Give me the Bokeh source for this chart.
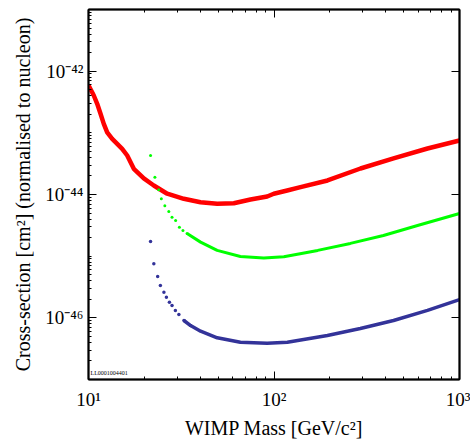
from bokeh.plotting import figure
from bokeh.models import FixedTicker, CustomJSTickFormatter, LogAxis, Label
from bokeh.embed import file_html
from bokeh.resources import INLINE

# ---- data ----
red_mass = [10.0, 10.68, 11.14, 11.61, 12.09, 12.61, 13.42, 14.28, 15.19, 16.17, 17.55,
            19.87, 22.49, 26.57, 32.65, 40.17, 49.41, 60.72, 74.68, 91.90, 99.75, 117.8,
            139.0, 194.3, 292.6, 440.9, 672.2, 1000]
red_xsec = [5.9e-43, 4.03e-43, 2.96e-43, 2.04e-43, 1.40e-43, 1.02e-43, 8.00e-44, 6.64e-44,
            5.51e-44, 4.29e-44, 2.61e-44, 1.82e-44, 1.40e-44, 1.03e-44, 8.51e-45, 7.50e-45,
            7.06e-45, 7.23e-45, 8.30e-45, 9.29e-45, 1.03e-44, 1.16e-44, 1.32e-44, 1.69e-44,
            2.64e-44, 3.84e-44, 5.57e-44, 7.52e-44]

green_dot_mass = [21.6, 22.8, 23.9, 24.7, 25.8, 27.1, 28.2, 29.5, 30.9, 32.3, 34.0]
green_dot_xsec = [4.30e-44, 1.91e-44, 1.19e-44, 8.5e-45, 6.6e-45, 5.3e-45, 4.29e-45,
                  3.79e-45, 2.95e-45, 2.6e-45, 2.33e-45]
green_line_mass = [34.0, 40.2, 49.4, 65.9, 88.1, 113, 172, 258, 389, 594, 1000]
green_line_xsec = [2.33e-45, 1.69e-45, 1.24e-45, 9.9e-46, 9.3e-46, 9.8e-46, 1.24e-45,
                   1.61e-45, 2.16e-45, 3.14e-45, 4.92e-45]

blue_dot_mass = [21.6, 22.5, 23.6, 24.4, 25.5, 26.3, 27.3, 28.2, 29.4, 30.7, 32.7, 35.5]
blue_dot_xsec = [1.73e-45, 7.52e-46, 4.68e-46, 3.35e-46, 2.61e-46, 2.16e-46, 1.79e-46,
                 1.59e-46, 1.32e-46, 1.13e-46, 9.05e-47, 7.5e-47]
blue_line_mass = [32.7, 35.5, 40.2, 49.4, 65.9, 91.8, 118, 194, 292, 441, 672, 1000]
blue_line_xsec = [9.05e-47, 7.5e-47, 6.07e-47, 4.75e-47, 4.03e-47, 3.88e-47, 4.03e-47,
                  5.18e-47, 6.72e-47, 9.05e-47, 1.32e-46, 1.98e-46]

x_major = [10, 100, 1000]
y_major = [1e-46, 1e-44, 1e-42]
x_minor = [k * 10.0 ** e for e in range(1, 3) for k in range(1, 10)] + [1000]
y_minor = [k * 10.0 ** e for e in range(-47, -41) for k in range(1, 10)]

FONT = "Liberation Serif, Times New Roman, serif"

p = figure(width=470, height=446, x_axis_type="log", y_axis_type="log",
           x_range=(10, 1000), y_range=(1e-47, 1e-41),
           output_backend="svg", toolbar_location=None,
           min_border_left=88, min_border_right=11, min_border_top=9, min_border_bottom=67)
p.background_fill_color = "white"
p.border_fill_color = "white"
p.outline_line_color = "black"
p.outline_line_width = 1.5
p.xgrid.visible = False
p.ygrid.visible = False

fmt_code = """
const e = Math.round(Math.log10(tick));
const sup = {"-":"\u207b","0":"\u2070","1":"\u00b9","2":"\u00b2","3":"\u00b3","4":"\u2074",
             "5":"\u2075","6":"\u2076","7":"\u2077","8":"\u2078","9":"\u2079"};
return "10" + String(e).split("").map(c => sup[c]).join("");
"""

def style_axis(ax):
    ax.axis_line_color = "black"
    ax.axis_line_width = 2
    ax.major_tick_in = 8
    ax.major_tick_out = 0
    ax.minor_tick_in = 3
    ax.minor_tick_out = 0
    ax.major_tick_line_color = "black"
    ax.minor_tick_line_color = "black"
    ax.major_label_text_font = FONT
    ax.axis_label_text_font = FONT
    ax.axis_label_text_font_style = "normal"
    ax.major_label_text_color = "black"
    ax.axis_label_text_color = "black"

xa = p.xaxis[0]
xa.ticker = FixedTicker(ticks=x_major, minor_ticks=x_minor)
xa.formatter = CustomJSTickFormatter(code=fmt_code)
style_axis(xa)
xa.major_label_text_font_size = "19px"
xa.major_label_standoff = 9
xa.axis_label = "WIMP Mass [GeV/c\u00b2]"
xa.axis_label_text_font_size = "20px"
xa.axis_label_standoff = 4

ya = p.yaxis[0]
ya.ticker = FixedTicker(ticks=y_major, minor_ticks=y_minor)
ya.formatter = CustomJSTickFormatter(code=fmt_code)
style_axis(ya)
ya.major_label_text_font_size = "19px"
ya.major_label_standoff = 5
ya.axis_label = "Cross-section [cm\u00b2] (normalised to nucleon)"
ya.axis_label_text_font_size = "20px"
ya.axis_label_standoff = 8

top = LogAxis(ticker=FixedTicker(ticks=[100], minor_ticks=x_minor),
              formatter=CustomJSTickFormatter(code="return ''"))
style_axis(top)
top.major_label_text_font_size = "0px"
top.major_label_standoff = 0
p.add_layout(top, "above")

right = LogAxis(ticker=FixedTicker(ticks=y_major, minor_ticks=[]),
                formatter=CustomJSTickFormatter(code="return ''"))
style_axis(right)
right.major_label_text_font_size = "0px"
right.major_label_standoff = 0
p.add_layout(right, "right")

p.line(red_mass, red_xsec, line_color="#ff0000", line_width=4.5, line_join="round")
p.scatter(green_dot_mass, green_dot_xsec, size=3, fill_color="#00ff00", line_color=None)
p.line(green_line_mass, green_line_xsec, line_color="#00ff00", line_width=3, line_join="round")
p.scatter(blue_dot_mass, blue_dot_xsec, size=3.5, fill_color="#333399", line_color=None)
p.line(blue_line_mass, blue_line_xsec, line_color="#333399", line_width=3.5, line_join="round")

p.add_layout(Label(x=10.25, y=1.16e-47, text="LL0001004401", text_font=FONT,
                   text_font_size="6px", text_color="black"))

open("out.html", "w").write(file_html(p, INLINE))
